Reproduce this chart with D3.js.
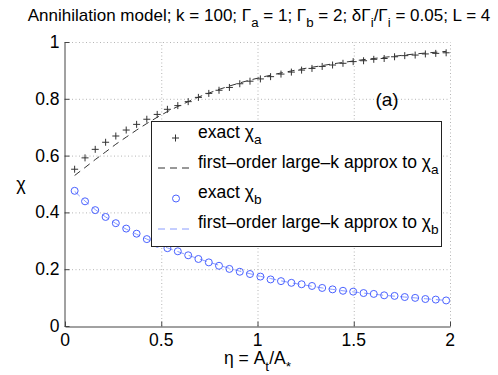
<!DOCTYPE html>
<html>
<head>
<meta charset="utf-8">
<script src="https://cdn.jsdelivr.net/npm/d3@7"></script>
<style>
  body { margin: 0; background: #fff; }
  text { font-family: "Liberation Sans", Arial, Helvetica, sans-serif; fill: #000; }
</style>
</head>
<body>
<div id="chart"></div>
<script>
// ---- 1. DATA ----
const eta = [0.05, 0.104, 0.157, 0.211, 0.264, 0.318, 0.372, 0.425, 0.479, 0.532,
             0.586, 0.64, 0.693, 0.747, 0.8, 0.854, 0.908, 0.961, 1.015, 1.068,
             1.122, 1.176, 1.229, 1.283, 1.336, 1.39, 1.444, 1.497, 1.551, 1.604,
             1.658, 1.712, 1.765, 1.819, 1.872, 1.926, 1.98];

const exactA = [0.552, 0.592, 0.622, 0.647, 0.669, 0.690, 0.710, 0.728, 0.745, 0.763,
                0.776, 0.790, 0.805, 0.819, 0.830, 0.840, 0.853, 0.862, 0.870, 0.878,
                0.887, 0.894, 0.901, 0.907, 0.914, 0.919, 0.925, 0.931, 0.934, 0.939,
                0.942, 0.948, 0.952, 0.954, 0.958, 0.960, 0.962];

const approxA = [0.530, 0.558, 0.586, 0.613, 0.640, 0.665, 0.690, 0.713, 0.735, 0.755,
                 0.773, 0.790, 0.806, 0.820, 0.833, 0.845, 0.856, 0.866, 0.875, 0.883,
                 0.891, 0.898, 0.905, 0.911, 0.917, 0.923, 0.928, 0.933, 0.938, 0.942,
                 0.946, 0.950, 0.954, 0.958, 0.961, 0.964, 0.967];

const exactB = [0.476, 0.439, 0.408, 0.384, 0.362, 0.343, 0.325, 0.306, 0.290, 0.274,
                0.263, 0.249, 0.236, 0.224, 0.212, 0.201, 0.191, 0.183, 0.174, 0.164,
                0.158, 0.152, 0.147, 0.141, 0.134, 0.129, 0.124, 0.121, 0.116, 0.113,
                0.108, 0.106, 0.102, 0.099, 0.095, 0.093, 0.090];

const approxB = [0.474, 0.440, 0.410, 0.384, 0.361, 0.341, 0.323, 0.306, 0.290, 0.275,
                 0.262, 0.249, 0.237, 0.225, 0.214, 0.203, 0.193, 0.184, 0.175, 0.167,
                 0.159, 0.152, 0.146, 0.140, 0.134, 0.129, 0.124, 0.120, 0.116, 0.112,
                 0.108, 0.105, 0.102, 0.099, 0.096, 0.093, 0.090];

const xTicks = [0, 0.5, 1, 1.5, 2];
const yTicks = [0, 0.2, 0.4, 0.6, 0.8, 1];

// ---- 2. SVG ----
const W = 498, H = 375;
const svg = d3.select("#chart").append("svg")
    .attr("width", W).attr("height", H);

const x = d3.scaleLinear().domain([0, 2]).range([65, 450]);
const y = d3.scaleLinear().domain([0, 1]).range([326, 42]);

// text with TeX-like subscripts: parts = [[str, isSub], ...]
function richText(sel, parts, size) {
    const t = sel.append("text").style("font-size", size + "px");
    let down = false;
    for (const [s, sub] of parts) {
        const ts = t.append("tspan").text(s);
        if (sub && !down) { ts.attr("dy", size * 0.38).style("font-size", (size * 0.78) + "px"); down = true; }
        else if (sub) { ts.style("font-size", (size * 0.78) + "px"); }
        else if (down) { ts.attr("dy", -size * 0.38); down = false; }
    }
    return t;
}

// ---- 3. GRID ----
const grid = svg.append("g")
    .attr("stroke", "#b5b5b5").attr("stroke-width", 1)
    .attr("stroke-dasharray", "1,2.5");

grid.selectAll("line.gx").data(xTicks.filter(d => d > 0)).enter().append("line")
    .attr("x1", d => x(d) + 0.5).attr("x2", d => x(d) + 0.5)
    .attr("y1", y(0)).attr("y2", y(1));

grid.selectAll("line.gy").data(yTicks.filter(d => d > 0)).enter().append("line")
    .attr("x1", x(0)).attr("x2", x(2))
    .attr("y1", d => y(d) + 0.5).attr("y2", d => y(d) + 0.5);

// ---- 4. AXES (inward ticks, box off) ----
const fmt = d3.format("");
const xAxis = svg.append("g")
    .attr("transform", `translate(0,${y(0) + 0.5})`)
    .call(d3.axisTop(x).tickValues(xTicks).tickSizeInner(5).tickSizeOuter(0));
xAxis.selectAll("text").remove();
xAxis.selectAll("text.lab").data(xTicks).enter().append("text")
    .attr("x", d => x(d)).attr("y", 19)
    .attr("text-anchor", "middle")
    .style("font-size", "17.5px")
    .text(d => fmt(d));

const yAxis = svg.append("g")
    .attr("transform", `translate(${x(0) - 0.5},0)`)
    .call(d3.axisRight(y).tickValues(yTicks).tickSizeInner(5).tickSizeOuter(0));
yAxis.selectAll("text").remove();
yAxis.selectAll("text.lab").data(yTicks).enter().append("text")
    .attr("x", -5).attr("y", d => y(d) + 6)
    .attr("text-anchor", "end")
    .style("font-size", "17.5px")
    .text(d => fmt(d));

svg.selectAll(".domain, .tick line").attr("stroke", "#444");

// ---- 5. SERIES ----
const line = d3.line().x(d => x(d[0])).y(d => y(d[1]));

svg.append("path")
    .datum(d3.zip(eta, approxA))
    .attr("fill", "none").attr("stroke", "#333").attr("stroke-width", 1)
    .attr("stroke-dasharray", "7,5")
    .attr("d", line);

svg.append("path")
    .datum(d3.zip(eta, approxB))
    .attr("fill", "none").attr("stroke", "#8a9cff").attr("stroke-width", 1)
    .attr("stroke-dasharray", "7,5")
    .attr("d", line);

function plus(g, px, py, r) {
    g.append("path")
        .attr("d", `M${px - r},${py}H${px + r}M${px},${py - r}V${py + r}`)
        .attr("stroke", "#333").attr("stroke-width", 1).attr("fill", "none");
}

const gA = svg.append("g");
d3.zip(eta, exactA).forEach(d => plus(gA, x(d[0]), y(d[1]), 3.5));

svg.append("g").selectAll("circle").data(d3.zip(eta, exactB)).enter().append("circle")
    .attr("cx", d => x(d[0])).attr("cy", d => y(d[1])).attr("r", 3.5)
    .attr("fill", "none").attr("stroke", "#4a62ff").attr("stroke-width", 1);

// ---- 6. LEGEND ----
const leg = svg.append("g");
leg.append("rect")
    .attr("x", 151.5).attr("y", 121.5).attr("width", 290).attr("height", 125)
    .attr("fill", "#fff").attr("stroke", "#222").attr("stroke-width", 1);

const rows = [131.5, 161.5, 191.5, 221.5];
plus(leg, 175.5, rows[0] + 6.5, 3.5);
leg.append("line").attr("x1", 158).attr("x2", 193)
    .attr("y1", rows[1] + 6.5).attr("y2", rows[1] + 6.5)
    .attr("stroke", "#333").attr("stroke-dasharray", "7,5");
leg.append("circle").attr("cx", 176).attr("cy", rows[2] + 7).attr("r", 3.5)
    .attr("fill", "none").attr("stroke", "#4a62ff");
leg.append("line").attr("x1", 158).attr("x2", 193)
    .attr("y1", rows[3] + 7.5).attr("y2", rows[3] + 7.5)
    .attr("stroke", "#8a9cff").attr("stroke-dasharray", "7,5");

const legTexts = [
    [["exact χ", false], ["a", true]],
    [["first–order large–k approx to χ", false], ["a", true]],
    [["exact χ", false], ["b", true]],
    [["first–order large–k approx to χ", false], ["b", true]],
];
legTexts.forEach((parts, i) => {
    richText(leg, parts, 17.5).attr("x", 198).attr("y", rows[i] + 6);
});

// ---- 7. LABELS ----
richText(svg, [["Annihilation model; k = 100; Γ", false], ["a", true], [" = 1; Γ", false], ["b", true],
               [" = 2; δΓ", false], ["i", true], ["/Γ", false], ["i", true], [" = 0.05; L = 4", false]], 17)
    .attr("x", 259).attr("y", 21).attr("text-anchor", "middle");

svg.append("text")
    .attr("x", 387).attr("y", 106)
    .attr("text-anchor", "middle")
    .style("font-size", "19px")
    .text("(a)");

svg.append("text")
    .attr("x", 21).attr("y", 190)
    .attr("text-anchor", "middle")
    .style("font-size", "18px")
    .text("χ");

richText(svg, [["η = A", false], ["t", true], ["/A", false], ["*", true]], 17.5)
    .attr("x", 257.5).attr("y", 364).attr("text-anchor", "middle");
</script>
</body>
</html>
